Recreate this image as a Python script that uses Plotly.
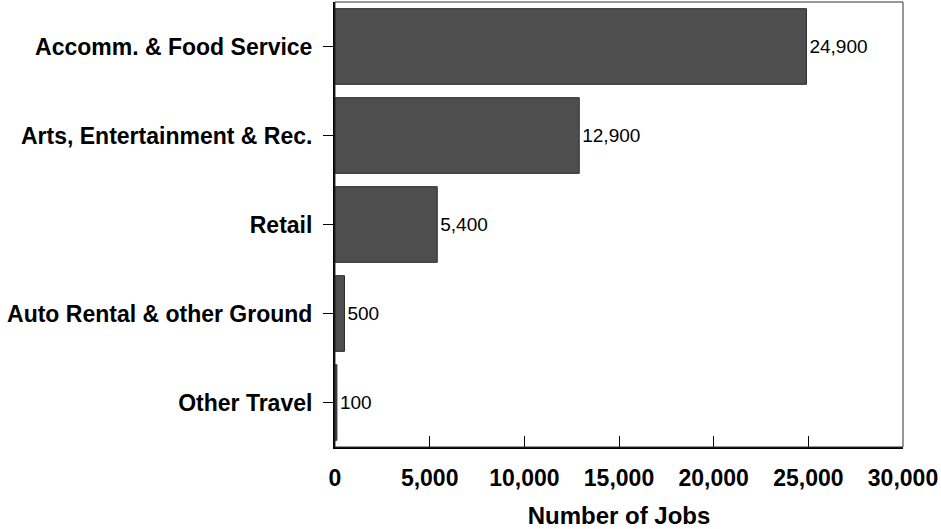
import plotly.graph_objects as go

categories = ["Accomm. & Food Service", "Arts, Entertainment & Rec.", "Retail",
              "Auto Rental & other Ground", "Other Travel"]
jobs = [24900, 12900, 5400, 500, 100]
bar_labels = ["24,900", "12,900", "5,400", "500", "100"]
x_ticks = [0, 5000, 10000, 15000, 20000, 25000, 30000]
x_ticktext = ["0", "5,000", "10,000", "15,000", "20,000", "25,000", "30,000"]

FONT = "Liberation Sans, Arial, sans-serif"

fig = go.Figure(go.Bar(
    y=categories, x=jobs, orientation="h",
    marker=dict(color="#4e4e4e", line=dict(color="#2a2a2a", width=1)),
    text=bar_labels, textposition="outside", cliponaxis=False,
    textfont=dict(family=FONT, size=19, color="#000000"),
))

fig.update_layout(
    width=941, height=529,
    margin=dict(l=335, r=38, t=2, b=82, autoexpand=False),
    paper_bgcolor="white", plot_bgcolor="white",
    bargap=0.15, showlegend=False,
    font=dict(family=FONT, color="#000000"),
)
fig.update_xaxes(
    range=[0, 30000], tickvals=x_ticks, ticktext=x_ticktext,
    ticks="inside", ticklen=11, tickwidth=1, tickcolor="#000000",
    showline=True, linecolor="#000000", linewidth=1.5,
    showgrid=False, zeroline=False, automargin=False,
    ticklabelstandoff=10,
    tickfont=dict(family=FONT, size=23, color="#000000", weight="bold"),
    title=dict(text="<b>Number of Jobs</b>", font=dict(family=FONT, size=24, color="#000000"), standoff=17),
)
fig.update_yaxes(
    categoryorder="array", categoryarray=categories, autorange="reversed",
    ticks="outside", ticklen=10, tickwidth=1, tickcolor="#000000",
    showline=True, linecolor="#000000", linewidth=2,
    showgrid=False, zeroline=False, automargin=False,
    ticklabelstandoff=6,
    tickfont=dict(family=FONT, size=23, color="#000000", weight="bold"),
)
fig.add_shape(type="rect", xref="x domain", yref="y domain", x0=0, x1=1, y0=0, y1=1,
              line=dict(color="#333333", width=1), fillcolor="rgba(0,0,0,0)", layer="above")

fig.write_html("out.html", config={"displayModeBar": False},
               post_script="document.body.style.margin='0px';")
